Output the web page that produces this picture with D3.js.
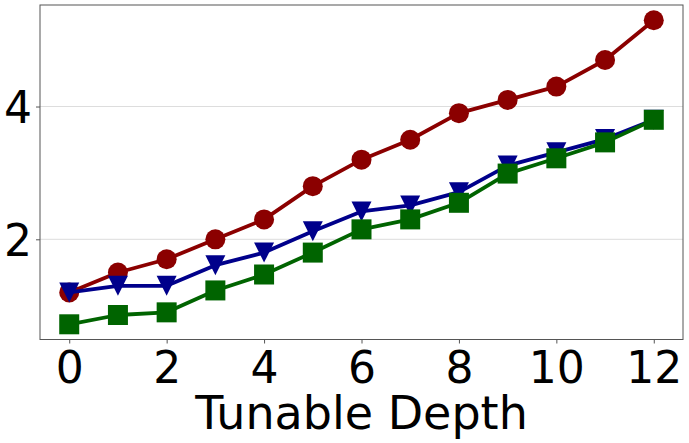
<!DOCTYPE html>
<html lang="en">
<head>
<meta charset="utf-8">
<title>Tunable Depth</title>
<style>
body { margin:0; background:#fff; }
svg { display:block; font-family:'DejaVu Sans', sans-serif; }
.axis path { display:none; }
.axis line { stroke:#555; }
.axis text { fill:#000; font-size:44px; font-family:'DejaVu Sans', sans-serif; }
.grid line { stroke:#ddd; stroke-width:1; }
</style>
</head>
<body>
<svg width="689" height="443"></svg>
<script src="https://cdnjs.cloudflare.com/ajax/libs/d3/7.8.5/d3.min.js"></script>
<script>

var depth = [0,1,2,3,4,5,6,7,8,9,10,11,12];
var redVals   = [1.2, 1.5, 1.7, 2.0, 2.3, 2.8, 3.2, 3.5, 3.9, 4.1, 4.3, 4.7, 5.3];
var blueVals  = [1.2, 1.3, 1.3, 1.61, 1.8, 2.12, 2.42, 2.51, 2.71, 3.11, 3.31, 3.51, 3.8];
var greenVals = [0.72, 0.86, 0.9, 1.23, 1.47, 1.8, 2.15, 2.3, 2.55, 2.99, 3.22, 3.46, 3.8];
var xTicks = [0,2,4,6,8,10,12];
var yTicks = [2,4];
var xLabel = "Tunable Depth";

var series = [
  {name:"red",   vals:redVals,   color:"#8b0000", marker:"circle"},
  {name:"blue",  vals:blueVals,  color:"#00008b", marker:"tridown"},
  {name:"green", vals:greenVals, color:"#006400", marker:"square"}
];

var svg = d3.select("svg"),
    margin = {top:5, right:6, bottom:103.5, left:40},
    width = 689 - margin.left - margin.right,
    height = 443 - margin.top - margin.bottom;

// matplotlib style 5% padding
var allY = redVals.concat(blueVals, greenVals);
var yMin = d3.min(allY), yMax = d3.max(allY), yPad = (yMax - yMin) * 0.05;
var x = d3.scaleLinear().domain([-0.6, 12.6]).range([0, width]);
var y = d3.scaleLinear().domain([yMin - yPad, yMax + yPad]).range([height, 0]);

var g = svg.append("g").attr("transform", "translate(" + margin.left + "," + margin.top + ")");

g.append("g").attr("class","grid")
  .selectAll("line").data(yTicks).enter().append("line")
  .attr("x1",0).attr("x2",width)
  .attr("y1",function(d){ return y(d); }).attr("y2",function(d){ return y(d); });

g.append("g").attr("class","axis")
  .attr("transform","translate(0," + height + ")")
  .call(d3.axisBottom(x).tickValues(xTicks).tickFormat(d3.format("d")).tickSize(4).tickPadding(5))
  .selectAll("text").attr("dy","0.78em");

g.append("g").attr("class","axis")
  .call(d3.axisLeft(y).tickValues(yTicks).tickFormat(d3.format("d")).tickSize(4).tickPadding(4))
  .selectAll("text").attr("dy","0.36em");

var line = d3.line()
  .x(function(d,i){ return x(depth[i]); })
  .y(function(d){ return y(d); });

var sz = 20;
series.forEach(function(s) {
  var sg = g.append("g");
  sg.append("path").datum(s.vals)
    .attr("d", line).attr("fill","none")
    .attr("stroke", s.color).attr("stroke-width", 3.8)
    .attr("stroke-linejoin","round");

  var pts = sg.selectAll(".pt").data(s.vals).enter();
  if (s.marker == "circle") {
    pts.append("circle")
      .attr("cx", function(d,i){ return x(depth[i]); })
      .attr("cy", function(d){ return y(d); })
      .attr("r", sz/2).attr("fill", s.color);
  } else if (s.marker == "square") {
    pts.append("rect")
      .attr("x", function(d,i){ return x(depth[i]) - sz/2; })
      .attr("y", function(d){ return y(d) - sz/2; })
      .attr("width", sz).attr("height", sz).attr("fill", s.color);
  } else {
    pts.append("path")
      .attr("d", function(d,i){
        var cx = x(depth[i]), cy = y(d), h = sz/2;
        return "M" + (cx-h) + "," + (cy-h) + "L" + (cx+h) + "," + (cy-h) + "L" + cx + "," + (cy+h) + "Z";
      })
      .attr("fill", s.color);
  }
});

// frame
g.append("rect").attr("width",width).attr("height",height)
  .attr("fill","none").attr("stroke","#555").attr("stroke-width",1);

svg.append("text")
  .attr("x", margin.left + width/2)
  .attr("y", 429)
  .attr("text-anchor","middle")
  .attr("font-size","46px")
  .attr("font-family","'DejaVu Sans', sans-serif")
  .text(xLabel);

</script>
</body>
</html>
